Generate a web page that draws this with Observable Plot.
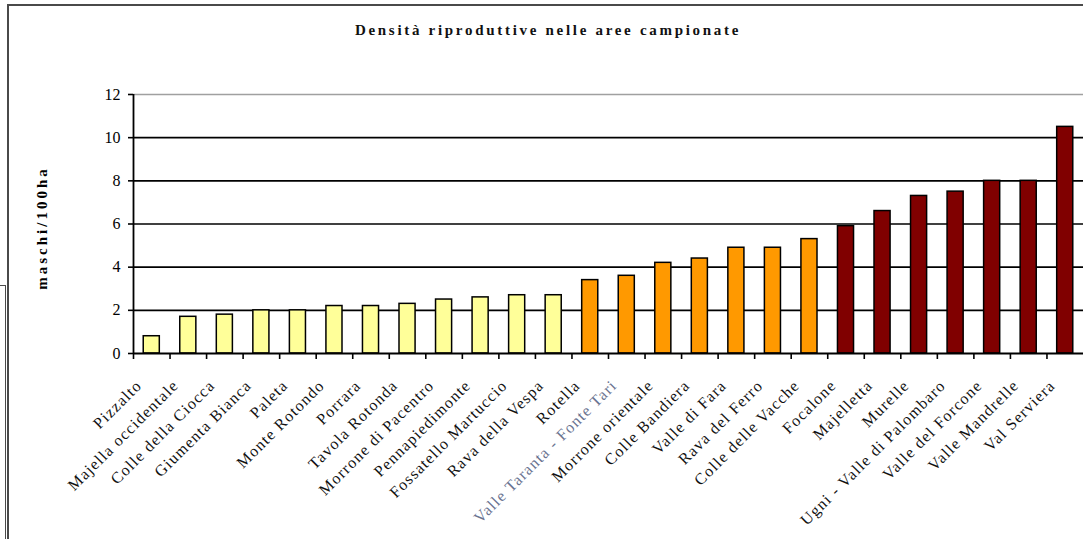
<!DOCTYPE html>
<html>
<head>
<meta charset="utf-8">
<script src="https://cdn.jsdelivr.net/npm/d3@7"></script>
<script src="https://cdn.jsdelivr.net/npm/@observablehq/plot@0.6"></script>
<style>
  html, body { margin: 0; padding: 0; background: #fff; }
  #wrap { position: relative; width: 1083px; height: 539px; overflow: hidden; background: #fff; }
  #frame { position: absolute; left: 7px; top: 4px; width: 1090px; height: 600px;
           border-top: 2px solid #4a4a4a; border-left: 2px solid #4a4a4a; }
  #frame2 { position: absolute; left: 0px; top: 285px; width: 5px; height: 300px;
            border-top: 1px solid #4a4a4a; border-right: 1px solid #4a4a4a; }
  #title { position: absolute; left: 0; top: 22px; width: 1083px; height: 24px; text-align: center;
           font-family: "Liberation Serif", serif; font-weight: bold; font-size: 15px;
           letter-spacing: 2.7px; color: #111; padding-left: 13px; box-sizing: border-box; }
  #chart { position: absolute; left: 0; top: 60px; }
</style>
</head>
<body>
<div id="wrap">
  <div id="frame"></div>
  <div id="frame2"></div>
  <div id="title">Densità riproduttive nelle aree campionate</div>
  <div id="chart"></div>
</div>
<script>
const areas = [
  "Pizzalto", "Majella occidentale", "Colle della Ciocca", "Giumenta Bianca", "Paleta",
  "Monte Rotondo", "Porrara", "Tavola Rotonda", "Morrone di Pacentro", "Pennapiedimonte",
  "Fossatello Martuccio", "Rava della Vespa", "Rotella", "Valle Taranta - Fonte Tari",
  "Morrone orientale", "Colle Bandiera", "Valle di Fara", "Rava del Ferro", "Colle delle Vacche",
  "Focalone", "Majelletta", "Murelle", "Ugni - Valle di Palombaro", "Valle del Forcone",
  "Valle Mandrelle", "Val Serviera"
];
const density = [
  0.8, 1.7, 1.8, 2.0, 2.0,
  2.2, 2.2, 2.3, 2.5, 2.6,
  2.7, 2.7, 3.4, 3.6,
  4.2, 4.4, 4.9, 4.9, 5.3,
  5.9, 6.6, 7.3, 7.5, 8.0,
  8.0, 10.5
];
const densityClass = [
  "low", "low", "low", "low", "low",
  "low", "low", "low", "low", "low",
  "low", "low", "mid", "mid",
  "mid", "mid", "mid", "mid", "mid",
  "high", "high", "high", "high", "high",
  "high", "high"
];
const classColors = { low: "#FFFF99", mid: "#FF9900", high: "#800000" };
const yTicks = [0, 2, 4, 6, 8, 10, 12];
const yLabel = "maschi/100ha";

const rows = areas.map((a, i) => ({ area: a, value: density[i], cls: densityClass[i] }));

const W = 1083, H = 479, mL = 133, mR = 0, mT = 34, mB = 186;
const step = (W - mL - mR) / areas.length;

const chart = Plot.plot({
  width: W, height: H,
  marginLeft: mL, marginRight: mR, marginTop: mT, marginBottom: mB,
  style: { fontFamily: "Liberation Serif, serif", fontSize: "16px", color: "#000", background: "transparent" },
  x: { domain: areas, paddingInner: 0.56, paddingOuter: 0.28, round: false, axis: null },
  y: { domain: [0, 12], ticks: yTicks, label: null },
  marks: [
    Plot.ruleY(yTicks.filter(v => v > 0 && v < 12), { stroke: "#000", strokeWidth: 1.6 }),
    Plot.ruleY([12], { stroke: "#a0a0a0", strokeWidth: 1.6 }),
    Plot.barY(rows, { x: "area", y: "value", fill: d => classColors[d.cls], stroke: "#000", strokeWidth: 1.5 }),
    Plot.ruleY([0], { stroke: "#000", strokeWidth: 1.8 }),
    Plot.ruleX(rows, { x: "area", y1: 0, y2: 0, insetBottom: -6, dx: -step / 2, stroke: "#000", strokeWidth: 1.6 }),
    Plot.axisY({ ticks: yTicks, tickSize: 5, tickPadding: 8, fontSize: 16, label: null, strokeWidth: 1.6 }),
    Plot.ruleX([areas[0]], { x: d => d, dx: -step / 2, stroke: "#000", strokeWidth: 1.8 }),
    Plot.text(rows, {
      x: "area", frameAnchor: "bottom", text: "area", rotate: -45, textAnchor: "end",
      lineAnchor: "bottom", dx: -9, dy: 33, fontSize: 16,
      fill: d => d.area === "Valle Taranta - Fonte Tari" ? "#6a7390" : "#111"
    }),
    Plot.text([yLabel], {
      frameAnchor: "left", text: d => d, rotate: -90, textAnchor: "middle", dx: -91, dy: 4,
      fontWeight: "bold", fontSize: 15, fill: "#000"
    })
  ]
});
d3.select(chart).selectAll("text")
  .filter(function () { return areas.includes(this.textContent); })
  .style("letter-spacing", "1.2px");
d3.select(chart).selectAll("text")
  .filter(function () { return this.textContent === yLabel; })
  .style("letter-spacing", "3px");
document.getElementById("chart").appendChild(chart);
</script>
</body>
</html>
